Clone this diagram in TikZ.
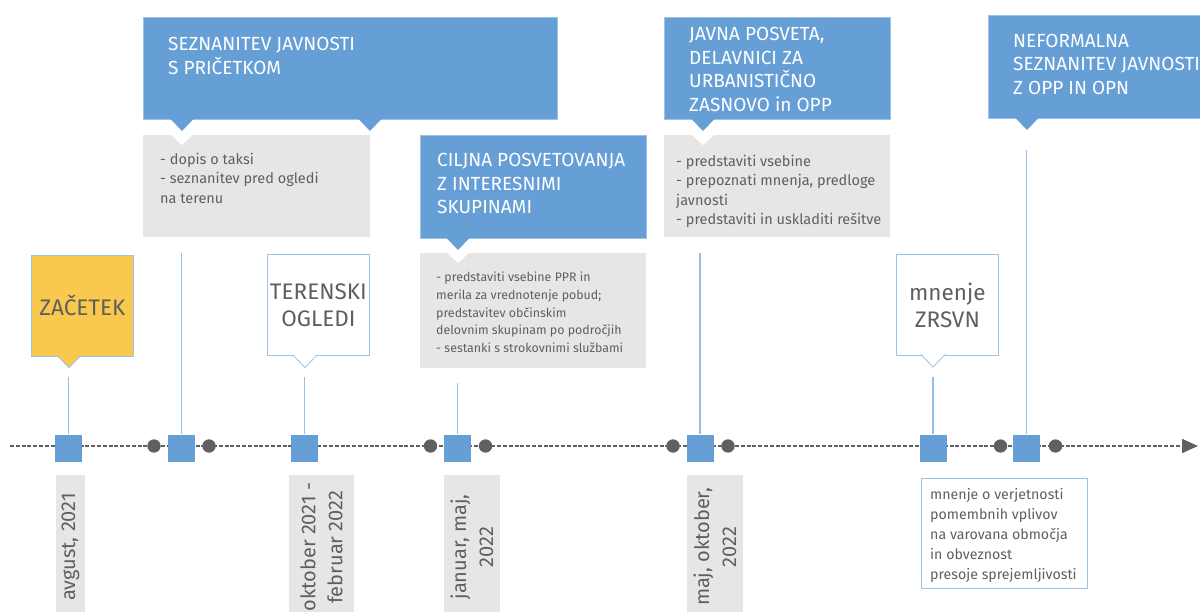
\documentclass[tikz,border=0pt]{standalone}
\usepackage{fontspec}
\setmainfont{Fira Sans}
\usetikzlibrary{arrows.meta}
\definecolor{cblue}{RGB}{102,158,214}
\definecolor{cborder}{RGB}{157,195,230}
\definecolor{cline}{RGB}{150,190,232}
\definecolor{cgray}{RGB}{230,230,230}
\definecolor{ctext}{RGB}{95,95,95}
\definecolor{cdot}{RGB}{96,96,96}
\definecolor{cyellow}{RGB}{248,201,78}
\begin{document}
\begin{tikzpicture}[x=1pt,y=-1pt,
  bluebox/.style={fill=cblue, draw=cborder, line width=0.6pt, anchor=north west, inner sep=0pt},
  title/.style={text=white, font=\fontsize{19}{23.5}\selectfont, align=left, anchor=north west, inner sep=0pt},
  graybox/.style={fill=cgray, anchor=north west, inner sep=0pt},
  note/.style={text=ctext, font=\fontsize{14.5}{19.5}\selectfont, align=left, anchor=north west, inner sep=0pt},
  callout/.style={fill=white, draw=cborder, line width=0.8pt, anchor=north west, inner sep=0pt,
     minimum width=102pt, minimum height=101pt, text=ctext, font=\fontsize{22.5}{27}\selectfont, align=center},
  sq/.style={fill=cblue, minimum size=27pt, inner sep=0pt},
  tdot/.style={circle, fill=cdot, minimum size=13.4pt, inner sep=0pt},
  conn/.style={draw=cline, line width=1.3pt},
  datebox/.style={fill=cgray, rotate=90, text=ctext, font=\fontsize{20}{27}\selectfont, align=center, inner sep=0pt},
  timeline/.style={draw=cdot, line width=1.6pt, dash pattern=on 4pt off 1.8pt, -{Triangle[length=16pt,width=14pt]}}
]
\useasboundingbox (0,0) rectangle (1200,612);

% ---------- upper blue boxes with grey notes ----------
\node[graybox, minimum width=227pt, minimum height=102pt] (g1) at (143,135) {};
\node[bluebox, minimum width=414pt, minimum height=102pt] (b1) at (143,17) {};
\node[title] (b1t) at (168,37) {SEZNANITEV JAVNOSTI\\S PRIČETKOM};
\fill[cblue] (170.5,119) -- (193.5,119) -- (182,131) -- cycle;
\fill[cblue] (358.5,119) -- (381.5,119) -- (370,131) -- cycle;
\fill[white] (170.5,134.5) -- (193.5,134.5) -- (182,145) -- cycle;
\node[note] (g1t) at (160,152.5) {- dopis o taksi\\- seznanitev pred ogledi\\na terenu};

\node[graybox, minimum width=226pt, minimum height=115pt] (g2) at (420,253) {};
\node[bluebox, minimum width=226pt, minimum height=103pt] (b2) at (420,135) {};
\node[title] (b2t) at (437,153) {CILJNA POSVETOVANJA\\Z INTERESNIMI\\SKUPINAMI};
\fill[cblue] (446.5,238) -- (469.5,238) -- (458,250) -- cycle;
\fill[white] (446.5,252.5) -- (469.5,252.5) -- (458,263) -- cycle;
\node[note, font=\fontsize{12.4}{17.6}\selectfont] (g2t) at (436,272) {- predstaviti vsebine PPR in\\merila za vrednotenje pobud;\\predstavitev občinskim\\delovnim skupinam po področjih\\- sestanki s strokovnimi službami};

\node[graybox, minimum width=226pt, minimum height=102pt] (g3) at (664,135) {};
\node[bluebox, minimum width=226pt, minimum height=102pt] (b3) at (664,17) {};
\node[title] (b3t) at (689,27) {JAVNA POSVETA,\\DELAVNICI ZA\\URBANISTIČNO\\ZASNOVO in OPP};
\fill[cblue] (691.5,119) -- (714.5,119) -- (703,131) -- cycle;
\fill[white] (691.5,134.5) -- (714.5,134.5) -- (703,145) -- cycle;
\node[note] (g3t) at (676,154.5) {- predstaviti vsebine\\- prepoznati mnenja, predloge\\javnosti\\- predstaviti in uskladiti rešitve};

\node[bluebox, minimum width=230pt, minimum height=103pt] (b4) at (988,15) {};
\node[title] (b4t) at (1013,33.5) {NEFORMALNA\\SEZNANITEV JAVNOSTI\\Z OPP IN OPN};
\fill[cblue] (1015.5,118) -- (1038.5,118) -- (1027,130) -- cycle;

% ---------- callouts above the line ----------
\node[callout, fill=cyellow] (zac) at (31,255) {ZAČETEK};
\fill[cyellow] (57.5,355.5) -- (80.5,355.5) -- (69,367.5) -- cycle;
\draw[cborder, line width=0.8pt] (57.5,356) -- (69,367.5) -- (80.5,356);

\node[callout] (ter) at (267,254) {TERENSKI\\OGLEDI};
\fill[white] (293,354.5) -- (317,354.5) -- (305,367.5) -- cycle;
\draw[cborder, line width=0.8pt] (293,355) -- (305,367.5) -- (317,355);

\node[callout] (zrs) at (896,254) {mnenje\\ZRSVN};
\fill[white] (921,354) -- (945,354) -- (933,367) -- cycle;
\draw[cborder, line width=0.8pt] (921,354.5) -- (933,367) -- (945,354.5);

% ---------- timeline ----------
\coordinate (tl0) at (10,446);
\coordinate (tl1) at (1198,446);
\draw[timeline] (tl0) -- (tl1);

\node[sq] (s1) at (68.5,448) {};
\node[sq] (s2) at (181.5,448) {};
\node[sq] (s3) at (304.5,448) {};
\node[sq] (s4) at (457.5,448) {};
\node[sq] (s5) at (700,448) {};
\node[sq] (s6) at (933,448) {};
\node[sq] (s7) at (1026.5,448) {};

\coordinate (c1) at (68.5,377);
\coordinate (c2) at (181.5,253);
\coordinate (c3) at (304.5,377);
\coordinate (c4) at (457.5,383);
\coordinate (c5) at (700,253);
\coordinate (c6) at (933,377);
\coordinate (c7) at (1026.5,150);
\foreach \i in {1,...,7} { \draw[conn] (c\i) -- (s\i.north); }

\node[tdot] (d2a) at (154,446) {};
\node[tdot] (d2b) at (209,446) {};
\node[tdot] (d4a) at (430.5,446) {};
\node[tdot] (d4b) at (485.5,446) {};
\node[tdot] (d5a) at (673,446) {};
\node[tdot] (d5b) at (728,446) {};
\node[tdot] (d7a) at (1000.5,446) {};
\node[tdot] (d7b) at (1055.5,446) {};

% ---------- dates ----------
\node[datebox, minimum width=144pt, minimum height=29pt] (t1) at (70.5,547) {avgust, 2021};
\node[datebox, minimum width=144pt, minimum height=65pt] (t3) at (321.5,547) {oktober 2021 -\\februar 2022};
\node[datebox, minimum width=144pt, minimum height=56pt] (t4) at (472,547) {januar, maj,\\2022};
\node[datebox, minimum width=144pt, minimum height=56pt] (t5) at (715,547) {maj, oktober,\\2022};

\node[fill=white, draw=cborder, line width=0.8pt, anchor=north west, minimum width=166pt, minimum height=110pt, inner sep=0pt] (m6) at (921,478) {};
\node[note, font=\fontsize{14.2}{20}\selectfont] (m6t) at (930,488.5) {mnenje o verjetnosti\\pomembnih vplivov\\na varovana območja\\in obveznost\\presoje sprejemljivosti};
\end{tikzpicture}
\end{document}
